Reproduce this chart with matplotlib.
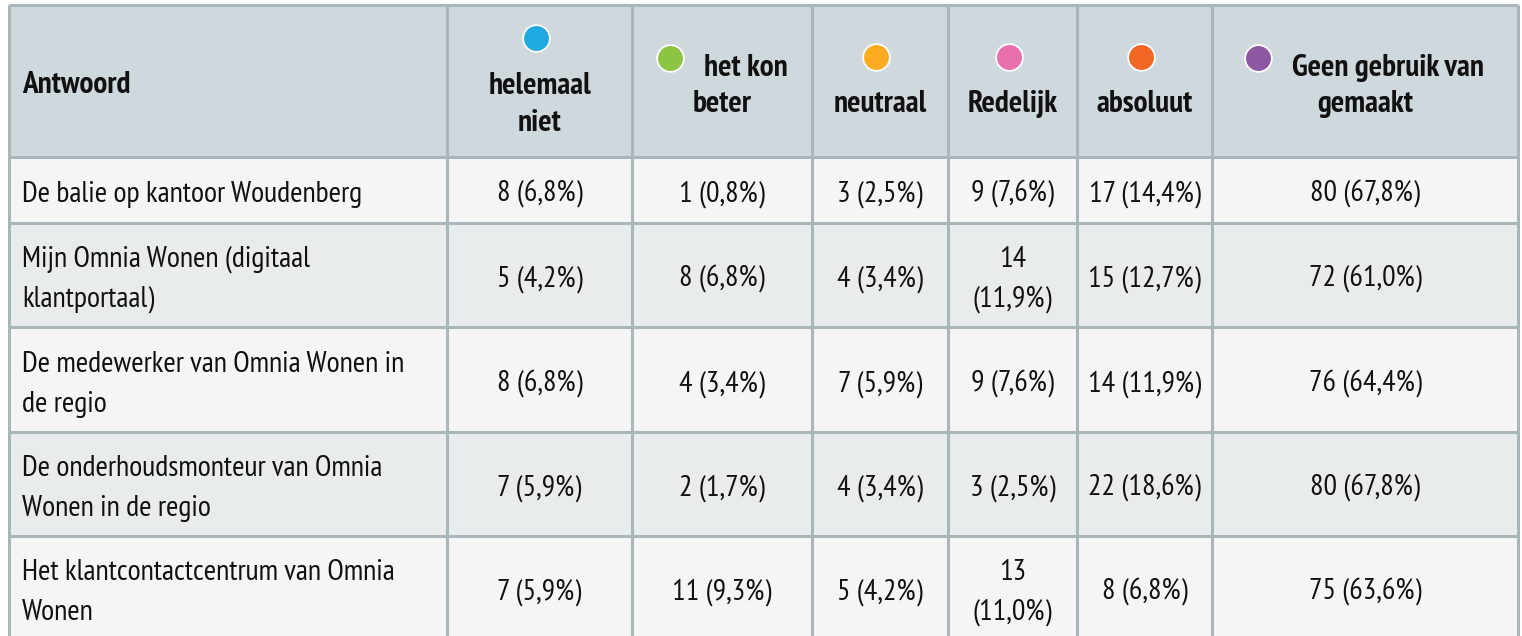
import matplotlib
matplotlib.use("Agg")
import matplotlib.pyplot as plt
from matplotlib.patches import Rectangle
from matplotlib import font_manager
from matplotlib.font_manager import FontProperties

# Table content
answers = [
    "De balie op kantoor Woudenberg",
    "Mijn Omnia Wonen (digitaal\nklantportaal)",
    "De medewerker van Omnia Wonen in\nde regio",
    "De onderhoudsmonteur van Omnia\nWonen in de regio",
    "Het klantcontactcentrum van Omnia\nWonen",
]
categories = ["helemaal\nniet", "het kon\nbeter", "neutraal", "Redelijk", "absoluut",
              "Geen gebruik van\ngemaakt"]
dot_colors = ["#1fa9e1", "#8bc541", "#fcaa22", "#e96fac", "#f26624", "#8e57a2"]

counts = [
    [8, 1, 3, 9, 17, 80],
    [5, 8, 4, 14, 15, 72],
    [8, 4, 7, 9, 14, 76],
    [7, 2, 4, 3, 22, 80],
    [7, 11, 5, 13, 8, 75],
]
percentages = [
    [6.8, 0.8, 2.5, 7.6, 14.4, 67.8],
    [4.2, 6.8, 3.4, 11.9, 12.7, 61.0],
    [6.8, 3.4, 5.9, 7.6, 11.9, 64.4],
    [5.9, 1.7, 3.4, 2.5, 18.6, 67.8],
    [5.9, 9.3, 4.2, 11.0, 6.8, 63.6],
]

# Layout (pixels)
col_edges = [9, 447, 632, 812, 948, 1077, 1212, 1518]
row_edges = [5, 157, 223, 327, 432, 536, 640]
dot_inline = [False, True, False, False, False, True]
wrap_cells = {(1, 3), (4, 3)}

HEADER_BG = "#cfd8dc"
ROW_BG = ["#f5f5f5", "#e8ecec"]
GRID = "#a9b7bb"
TEXT = "#111111"

# pick a narrow font if there is one
names = {f.name for f in font_manager.fontManager.ttflist}
FAMILY = "Roboto"
for fam in ["PT Sans Narrow", "Roboto Condensed", "Open Sans Condensed",
            "Liberation Sans Narrow", "Archivo Narrow", "Roboto"]:
    if fam in names:
        FAMILY = fam
        break


def text_width(s, size, weight="normal"):
    prop = FontProperties(family=FAMILY, weight=weight, size=size)
    font = font_manager.get_font(font_manager.findfont(prop))
    font.set_size(size, 100)
    return sum(font.load_char(ord(c)).linearHoriAdvance / 65536 for c in s)


# keep sizes so the widths fit the reference cells
BODY_SIZE = 21.6
w = text_width("De balie op kantoor Woudenberg", BODY_SIZE)
if w > 348:
    BODY_SIZE *= 348 / w
HEAD_SIZE = 22.5
w = text_width("Geen gebruik van", HEAD_SIZE, "bold")
if w > 212:
    HEAD_SIZE *= 212 / w

fig = plt.figure(figsize=(15.22, 6.36), dpi=100)
ax = fig.add_axes([0, 0, 1, 1])
ax.set_xlim(0, 1522)
ax.set_ylim(636, 0)
ax.axis("off")


def head_text(x, y, s, ha="left"):
    ax.text(x, y, s, family=FAMILY, weight="bold", fontsize=HEAD_SIZE, ha=ha,
            va="baseline", color=TEXT)


def dot(x, y, color):
    ax.scatter([x], [y], s=370, c=color, edgecolors="white", linewidths=1.3, zorder=5)


# backgrounds
ax.add_patch(Rectangle((col_edges[0], row_edges[0]), col_edges[-1] - col_edges[0],
                       row_edges[1] - row_edges[0], fc=HEADER_BG, lw=0))
for i in range(len(answers)):
    ax.add_patch(Rectangle((col_edges[0], row_edges[i + 1]), col_edges[-1] - col_edges[0],
                           row_edges[i + 2] - row_edges[i + 1], fc=ROW_BG[i % 2], lw=0))

# grid
ax.vlines(col_edges, row_edges[0], row_edges[-1], colors=GRID, lw=2.2, zorder=3)
ax.hlines(row_edges, col_edges[0], col_edges[-1], colors=GRID, lw=2.2, zorder=3)

# header
head_text(22, 93, "Antwoord")
for j, label in enumerate(categories):
    cx = (col_edges[j + 1] + col_edges[j + 2]) / 2
    lines = label.split("\n")
    n = len(lines) if dot_inline[j] else len(lines) + 1
    b0 = 94 - 37 * (n - 1) / 2
    if dot_inline[j]:
        w = text_width(lines[0], HEAD_SIZE, "bold")
        left = cx - (47 + w) / 2
        dot(left + 13, b0 - 18, dot_colors[j])
        head_text(left + 47, b0, lines[0])
        for k, ln in enumerate(lines[1:]):
            head_text(cx, b0 + 37 * (k + 1), ln, ha="center")
    else:
        dot(cx - 4, b0 - 19, dot_colors[j])
        for k, ln in enumerate(lines):
            head_text(cx, b0 + 37 * (k + 1), ln, ha="center")

# body
for i, ans in enumerate(answers):
    cy = (row_edges[i + 1] + row_edges[i + 2]) / 2
    lines = ans.split("\n")
    for k, ln in enumerate(lines):
        ax.text(22, cy + 12 + 40 * (k - (len(lines) - 1) / 2), ln, family=FAMILY,
                fontsize=BODY_SIZE, ha="left", va="baseline", color=TEXT)
    for j in range(len(categories)):
        cx = (col_edges[j + 1] + col_edges[j + 2]) / 2
        s = f"{counts[i][j]} ({percentages[i][j]:.1f}%)".replace(".", ",")
        parts = s.split(" ", 1) if (i, j) in wrap_cells else [s]
        for k, ln in enumerate(parts):
            ax.text(cx, cy + 12 + 40 * (k - (len(parts) - 1) / 2), ln, family=FAMILY,
                    fontsize=BODY_SIZE, ha="center", va="baseline", color=TEXT)

fig.savefig("out.png", dpi=100)
